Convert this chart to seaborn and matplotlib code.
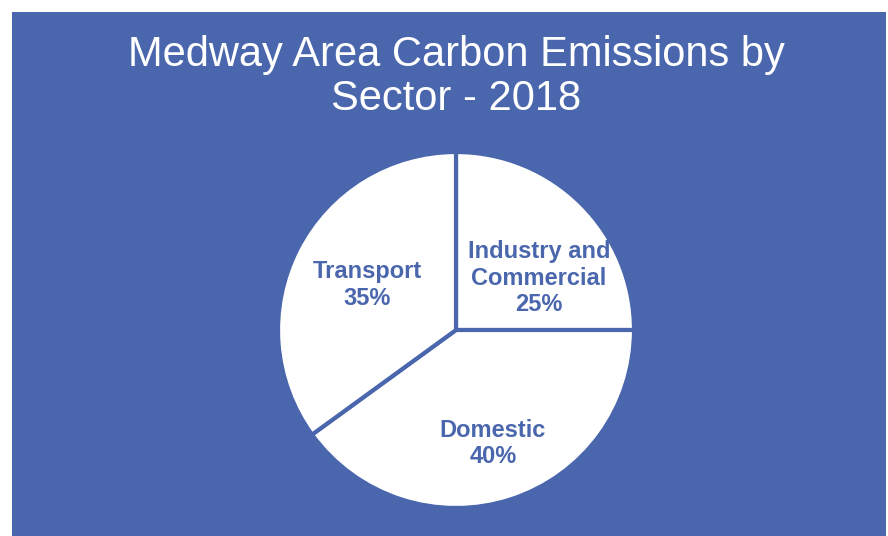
import numpy as np
import matplotlib
matplotlib.use("Agg")
import matplotlib.pyplot as plt
import seaborn as sns
from matplotlib.patches import Rectangle

# chart data
sectors = ["Industry and\nCommercial", "Domestic", "Transport"]
shares = [25, 40, 35]

title = "Medway Area Carbon Emissions by\nSector - 2018"
blue = "#4a67ad"

sns.set_style("white")
plt.rcParams["font.family"] = ["Liberation Sans", "DejaVu Sans"]

fig = plt.figure(figsize=(8.88, 5.36), dpi=100)
fig.patch.set_facecolor("white")

# blue chart area (white strip on the left / top like the original)
fig.patches.append(Rectangle((12 / 888, 0), 874 / 888, 524 / 536,
                             transform=fig.transFigure, facecolor=blue,
                             edgecolor="none", zorder=-1))

fig.text(456 / 888, 1 - 77 / 536, title, ha="center", va="center",
         color="white", fontsize=30, linespacing=1.1)

# pie area: centre (456, 330), radius 178 px
ax = fig.add_axes([(456 - 178) / 888, (536 - 330 - 178) / 536, 356 / 888, 356 / 536])
ax.set_facecolor("none")
wedges, _ = ax.pie(shares, colors=["white"] * len(shares), startangle=90,
                   counterclock=False, radius=1,
                   wedgeprops=dict(edgecolor=blue, linewidth=3))
ax.set_xlim(-1, 1)
ax.set_ylim(-1, 1)
ax.set_aspect("equal")
ax.axis("off")

# label placement: distance from centre and angle nudge per wedge
label_r = [0.55, 0.67, 0.56]
label_shift = [-13, 0, 0]
for w, name, pct, r, sh in zip(wedges, sectors, shares, label_r, label_shift):
    ang = np.deg2rad((w.theta1 + w.theta2) / 2 + sh)
    ax.text(r * np.cos(ang), r * np.sin(ang), f"{name}\n{pct}%",
            ha="center", va="center", color=blue, fontsize=17,
            fontweight="bold", linespacing=1.2)

fig.savefig("out.png", dpi=100, facecolor=fig.get_facecolor())
